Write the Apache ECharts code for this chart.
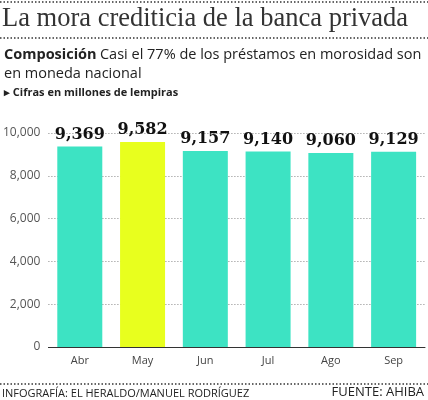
<!DOCTYPE html><html><head><meta charset="utf-8">
<script src="https://cdn.jsdelivr.net/npm/echarts@6/dist/echarts.min.js"></script>
<style>body{margin:0;background:#fff}#c{width:428px;height:400px}</style></head><body><div id="c"></div>
<script>
const categories=['Abr','May','Jun','Jul','Ago','Sep'];
const values=[9369,9582,9157,9140,9060,9129];
const yTicks=[0,2000,4000,6000,8000,10000];
const highlight=1;
const chart=echarts.init(document.getElementById('c'));
const dot=y=>({type:'line',shape:{x1:0,y1:y,x2:428,y2:y},style:{stroke:'#333',lineWidth:1.5,lineDash:[1.5,2]}});
chart.setOption({
 animation:false,
 graphic:[dot(2),dot(38),dot(384),
  {type:'text',left:2,top:6,style:{text:'La mora crediticia de la banca privada',fontSize:26.5,fontFamily:'Liberation Serif',fill:'#333'}},
  {type:'text',left:4,top:45,style:{rich:{b:{fontWeight:'bold',fontSize:14.5,fontFamily:'Open Sans',fill:'#222'},n:{fontSize:14.5,fontFamily:'Open Sans',fill:'#222'}},text:'{b|Composición} {n|Casi el 77% de los préstamos en morosidad son}\n{n|en moneda nacional}',lineHeight:19}},
  {type:'text',left:4,top:87,style:{text:'▸ Cifras en millones de lempiras',fontWeight:'bold',fontSize:11,fontFamily:'Open Sans',fill:'#222'}},
  {type:'text',left:2,top:388,style:{text:'INFOGRAFÍA: EL HERALDO/MANUEL RODRÍGUEZ',fontSize:11,fontFamily:'Open Sans',fill:'#222'}},
  {type:'text',right:4,top:386,style:{text:'FUENTE: AHIBA',fontSize:13,fontFamily:'Open Sans',fill:'#222'}}
 ],
 grid:{left:47,right:3,top:133,bottom:53},
 xAxis:{type:'category',data:categories,axisTick:{show:false},axisLine:{lineStyle:{color:'#333'}},axisLabel:{color:'#444',fontSize:11,fontFamily:'Open Sans',margin:8}},
 yAxis:{type:'value',min:0,max:10000,interval:2000,axisLabel:{color:'#555',fontSize:12,fontFamily:'Open Sans',formatter:v=>yTicks.includes(v)?v.toLocaleString('en-US'):''},splitLine:{lineStyle:{color:'#888',type:[1,2]}}},
 series:[{type:'bar',barWidth:45,data:values.map((v,i)=>({value:v,itemStyle:{color:i===highlight?'#e8ff1e':'#3de3c3'}})),
  label:{show:true,position:'top',distance:4,formatter:p=>p.value.toLocaleString('en-US'),fontWeight:'bold',fontSize:16,fontFamily:'DejaVu Serif',color:'#111'}}]
});
</script></body></html>
